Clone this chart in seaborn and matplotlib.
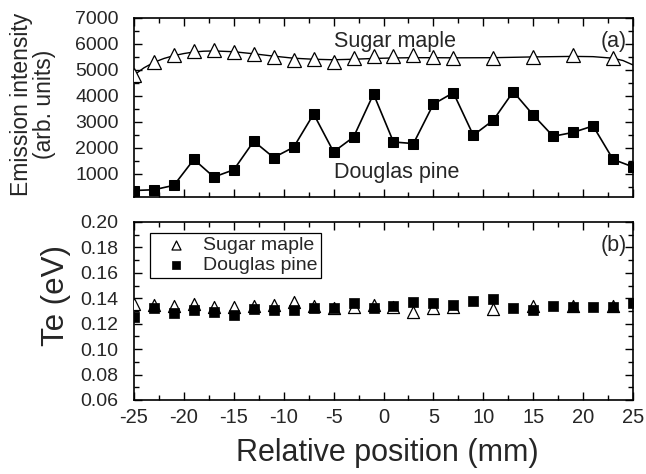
import numpy as np
import pandas as pd
import matplotlib
matplotlib.use("Agg")
import matplotlib.pyplot as plt
from matplotlib.ticker import MultipleLocator, FormatStrFormatter
import seaborn as sns

# ---------------- data ----------------
maple_x = [-25, -23, -21, -19, -17, -15, -13, -11, -9, -7, -5, -3, -1, 1, 3, 5, 7, 11, 15, 19, 23]
maple_int = [4800, 5300, 5560, 5720, 5760, 5700, 5610, 5510, 5390, 5430, 5320, 5450, 5540, 5540, 5580, 5490, 5450, 5450, 5510, 5580, 5475]

# smooth trend line through the maple intensities
maple_fit_x = [-25, -24, -23, -22, -21, -20, -19, -18, -17, -15, -13, -11, -9, -7, -5, -3, -1, 1, 3, 5, 7, 11, 15, 19, 21, 23, 24, 25]
maple_fit_y = [4800, 5080, 5290, 5440, 5550, 5630, 5690, 5720, 5730, 5700, 5620, 5530, 5450, 5410, 5390, 5410, 5440, 5460, 5470, 5470, 5465, 5470, 5500, 5520, 5510, 5450, 5360, 5190]

pine_x = [-25, -23, -21, -19, -17, -15, -13, -11, -9, -7, -5, -3, -1, 1, 3, 5, 7, 9, 11, 13, 15, 17, 19, 21, 23, 25]
pine_int = [350, 380, 550, 1550, 870, 1150, 2250, 1620, 2020, 3300, 1840, 2410, 4070, 2220, 2160, 3680, 4120, 2480, 3060, 4160, 3260, 2440, 2590, 2840, 1550, 1260]

maple_te = [0.1356, 0.1348, 0.1343, 0.1354, 0.1335, 0.1330, 0.1340, 0.1348, 0.1370, 0.1343, 0.1327, 0.1333, 0.1348, 0.1330, 0.1296, 0.1322, 0.1335, 0.1314, 0.1340, 0.1343, 0.1343]
pine_te = [0.1256, 0.1327, 0.1288, 0.1304, 0.1296, 0.1270, 0.1314, 0.1304, 0.1310, 0.1322, 0.1327, 0.1359, 0.1322, 0.1340, 0.1374, 0.1362, 0.1348, 0.1382, 0.1393, 0.1322, 0.1304, 0.1343, 0.1330, 0.1330, 0.1330, 0.1366]

xticks = [-25, -20, -15, -10, -5, 0, 5, 10, 15, 20, 25]

# ---------------- style ----------------
sns.set_style("ticks")
plt.rcParams["font.family"] = ["Liberation Sans", "DejaVu Sans"]
plt.rcParams["axes.linewidth"] = 1.2

fig = plt.figure(figsize=(6.46, 4.74), dpi=100)
W, H = 646, 474
def rect(x0, y0, x1, y1):
    return [x0 / W, 1 - y1 / H, (x1 - x0) / W, (y1 - y0) / H]

ax1 = fig.add_axes(rect(134, 18, 633, 197))
ax2 = fig.add_axes(rect(134, 222, 633, 400))

for ax in (ax1, ax2):
    ax.set_xlim(-25, 25)
    ax.xaxis.set_major_locator(MultipleLocator(5))
    ax.xaxis.set_minor_locator(MultipleLocator(2.5))
    ax.tick_params(which="both", direction="in", top=True, right=True, width=1.0, color="black")
    ax.tick_params(which="major", length=6)
    ax.tick_params(which="minor", length=3.5)
    ax.tick_params(axis="y", which="major", labelsize=14, pad=11)
    ax.tick_params(axis="x", which="major", labelsize=14.5, pad=6)
    for s in ax.spines.values():
        s.set_color("black")
        s.set_linewidth(1.2)

# ---------------- top panel ----------------
sns.lineplot(x=maple_fit_x, y=maple_fit_y, ax=ax1, color="black", lw=1.0, sort=False, zorder=2)
sns.lineplot(x=maple_x, y=maple_int, ax=ax1, color="black", lw=0, marker="^", markersize=10,
             markerfacecolor="white", markeredgecolor="black", markeredgewidth=0.9, zorder=3)
sns.lineplot(x=pine_x, y=pine_int, ax=ax1, color="black", lw=1.2, marker="s", markersize=7,
             markerfacecolor="black", markeredgecolor="black", zorder=3)
ax1.set_ylim(100, 7000)
ax1.yaxis.set_minor_locator(MultipleLocator(500))
ax1.set_yticks([1000, 2000, 3000, 4000, 5000, 6000, 7000])
ax1.set_xticks(xticks)
ax1.tick_params(labelbottom=False)
ax1.set_xlabel("")
ax1.set_ylabel("")
ax1.text(-5, 6100, "Sugar maple", fontsize=15.5, ha="left", va="center")
ax1.text(-5, 1050, "Douglas pine", fontsize=15.5, ha="left", va="center")
ax1.text(0.988, 0.87, "(a)", transform=ax1.transAxes, fontsize=15.5, ha="right", va="center")

# ---------------- bottom panel ----------------
sns.scatterplot(x=maple_x, y=maple_te, ax=ax2, marker="^", s=75, facecolor="white",
                edgecolor="black", linewidth=0.9, label="Sugar maple", zorder=3)
sns.scatterplot(x=pine_x, y=pine_te, ax=ax2, marker="s", s=55, color="black",
                edgecolor="black", linewidth=0.5, label="Douglas pine", zorder=4)
ax2.set_ylim(0.06, 0.20)
ax2.yaxis.set_major_locator(MultipleLocator(0.02))
ax2.yaxis.set_minor_locator(MultipleLocator(0.01))
ax2.yaxis.set_major_formatter(FormatStrFormatter("%.2f"))
ax2.set_xticks(xticks)
ax2.set_xticklabels([str(t) for t in xticks])
ax2.set_xlabel("")
ax2.set_ylabel("")
ax2.text(0.988, 0.87, "(b)", transform=ax2.transAxes, fontsize=15.5, ha="right", va="center")
leg = ax2.legend(loc="upper left", bbox_to_anchor=(0.033, 0.94), fontsize=14, frameon=True,
                 fancybox=False, edgecolor="black", framealpha=1, borderpad=0.2,
                 handlelength=2.2, handletextpad=0.3, labelspacing=0.1, markerscale=0.75,
                 borderaxespad=0)
leg.get_frame().set_linewidth(0.9)

# ---------------- axis labels ----------------
fig.text(33 / W, 1 - 104 / H, "Emission intensity\n(arb. units)", rotation=90, ha="center", va="center",
         fontsize=16.5, linespacing=1.0)
fig.text(56 / W, 1 - 295 / H, "Te (eV)", rotation=90, ha="center", va="center", fontsize=22.5)
fig.text(387 / W, 1 - 453 / H, "Relative position (mm)", ha="center", va="center", fontsize=22)

fig.savefig("out.png", dpi=100)
